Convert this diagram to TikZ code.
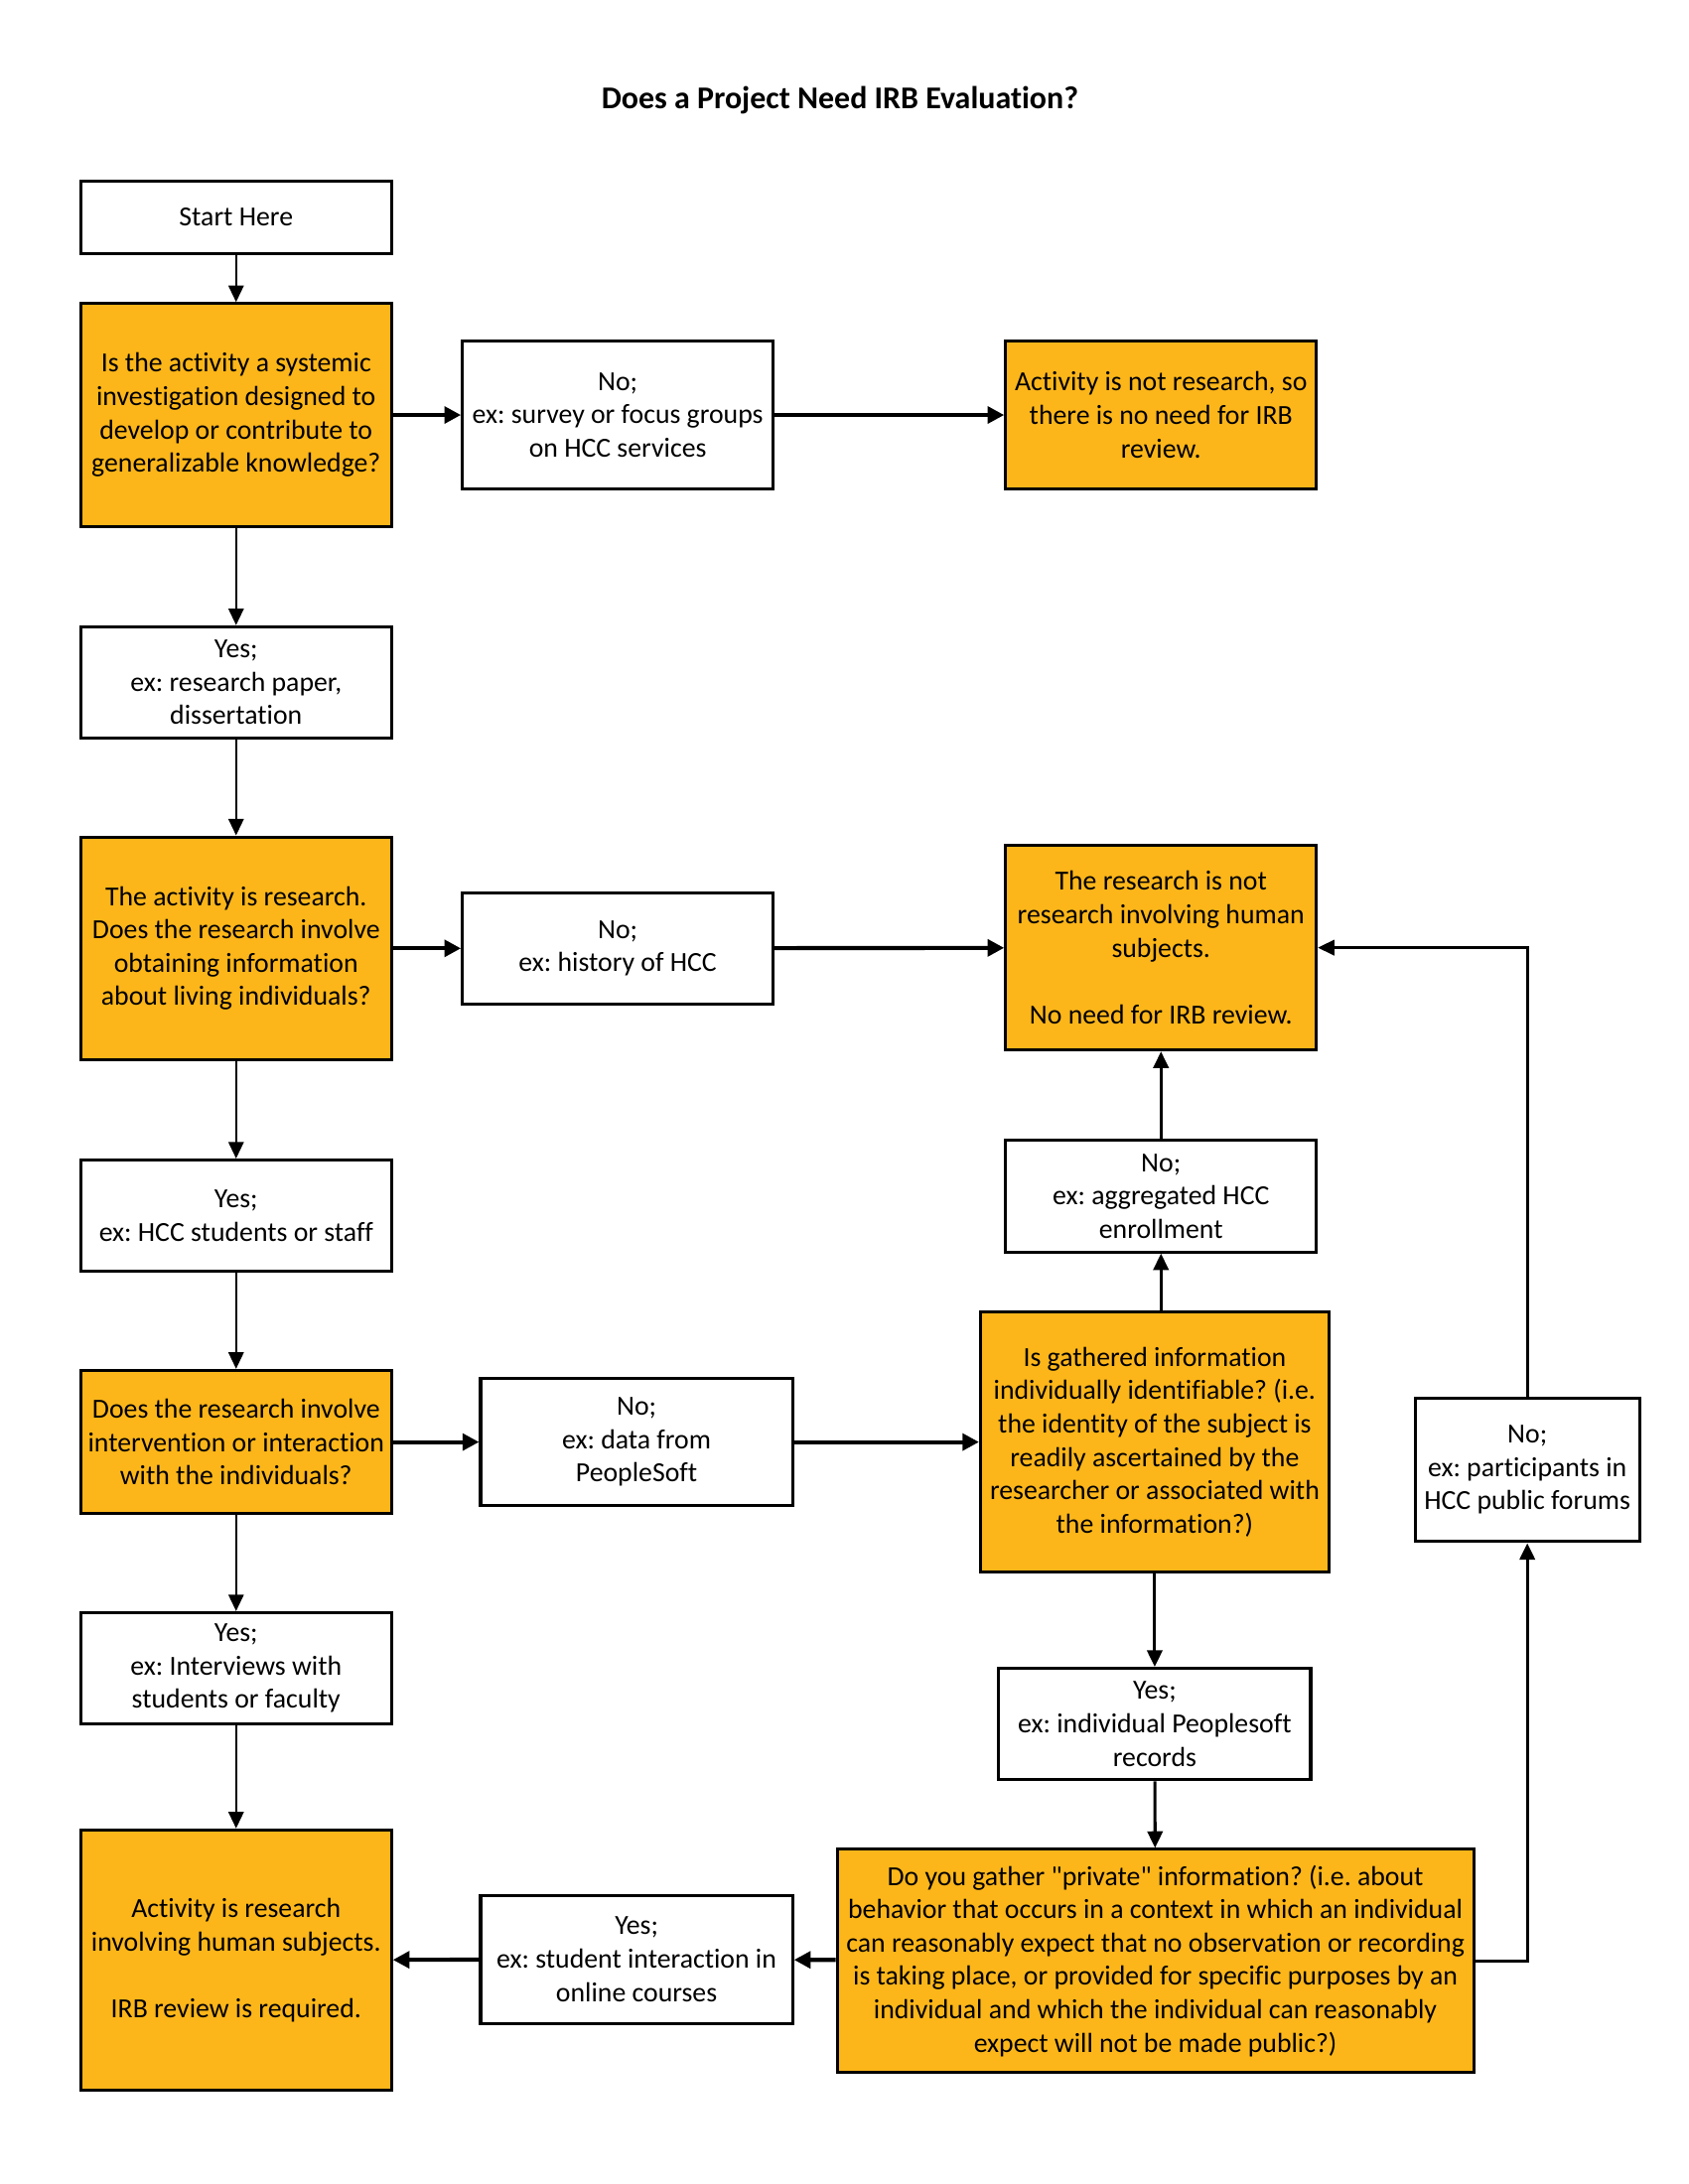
\documentclass[tikz,border=0pt]{standalone}
\usepackage{fontspec}
\setmainfont{Carlito}[Ligatures={TeXOff,CommonOff}]
\usetikzlibrary{arrows.meta,calc}
\definecolor{irborange}{RGB}{252,182,26}
\frenchspacing
\begin{document}
\begin{tikzpicture}[x=0.505pt,y=-0.505pt,
  box/.style={draw=black,line width=1.1pt,align=center,inner sep=2pt,
    font=\fontsize{10}{12.1}\selectfont,minimum width=#1},
  box/.default=112.6pt,
  qbox/.style={box=#1,fill=irborange},
  qbox/.default=112.6pt,
  thinarr/.style={line width=0.8pt,-{Triangle[length=6pt,width=5.5pt]}},
  thickarr/.style={line width=1.5pt,-{Triangle[length=6pt,width=6pt]}},
  medarr/.style={line width=1.1pt,-{Triangle[length=6pt,width=5.5pt]}}
]
\useasboundingbox (0,0) rectangle (1211.9,1568.3);
\fill[white] (0,0) rectangle (1211.9,1568.3);

\node[font=\fontsize{11.5}{14}\selectfont\bfseries] (title) at (603,72) {Does a Project Need IRB Evaluation?};

\node[box,minimum height=26.3pt] (start) at (169.5,156) {Start Here};
\node[qbox,minimum height=80.8pt] (q1) at (169.5,298) {Is the activity a systemic\\investigation designed to\\develop or contribute to\\generalizable knowledge?};
\node[box,minimum height=53.5pt] (no1) at (443.5,298) {No;\\ex: survey or focus groups\\on HCC services};
\node[qbox,minimum height=53.5pt] (r1) at (833.5,298) {Activity is not research, so\\there is no need for IRB\\review.};
\node[box,minimum height=40.4pt] (yes1) at (169.5,490) {Yes;\\ex: research paper,\\dissertation};
\node[qbox,minimum height=80.8pt] (q2) at (169.5,681) {The activity is research.\\Does the research involve\\obtaining information\\about living individuals?};
\node[box,minimum height=40.4pt] (no2) at (443.5,681) {No;\\ex: history of HCC};
\node[qbox,minimum height=74.2pt] (r2) at (833.5,680.5) {The research is not\\research involving human\\subjects.\\[12.1pt]No need for IRB review.};
\node[box,minimum height=40.4pt] (yes2) at (169.5,873) {Yes;\\ex: HCC students or staff};
\node[box,minimum height=40.4pt] (no3) at (833.5,859) {No;\\ex: aggregated HCC\\enrollment};
\node[qbox,minimum height=52pt] (q3) at (169.5,1035.5) {Does the research involve\\intervention or interaction\\with the individuals?};
\node[box=113.1pt,minimum height=46pt] (no4) at (457,1035.5) {No;\\ex: data from\\PeopleSoft};
\node[qbox=126.3pt,minimum height=94.4pt] (q4) at (829,1035.5) {Is gathered information\\individually identifiable? (i.e.\\the identity of the subject is\\readily ascertained by the\\researcher or associated with\\the information?)};
\node[box=81.3pt,minimum height=52pt] (no5) at (1096.5,1055.5) {No;\\ex: participants in\\HCC public forums};
\node[box,minimum height=40.4pt] (yes3) at (169.5,1198) {Yes;\\ex: Interviews with\\students or faculty};
\node[box=113.1pt,minimum height=40.4pt] (yes4) at (829,1238) {Yes;\\ex: individual Peoplesoft\\records};
\node[qbox,minimum height=94.4pt] (r3) at (169.5,1407.5) {Activity is research\\involving human subjects.\\[12.1pt]IRB review is required.};
\node[box=113.1pt,minimum height=46.5pt] (yes5) at (457,1407) {Yes;\\ex: student interaction in\\online courses};
\node[qbox=230.8pt,minimum height=80.8pt] (q5) at (829.5,1408) {Do you gather "private" information? (i.e. about\\behavior that occurs in a context in which an individual\\can reasonably expect that no observation or recording\\is taking place, or provided for specific purposes by an\\individual and which the individual can reasonably\\expect will not be made public?)};

% left column
\draw[thinarr] (start) -- (q1);
\draw[thinarr] (q1) -- (yes1);
\draw[thinarr] (yes1) -- (q2);
\draw[thinarr] (q2) -- (yes2);
\draw[thinarr] (yes2) -- (q3);
\draw[thinarr] (q3) -- (yes3);
\draw[thinarr] (yes3) -- (r3);

% horizontal
\draw[thickarr] (q1) -- (no1);
\draw[thickarr] (no1) -- (r1);
\draw[thickarr] (q2) -- (no2);
\draw[thickarr] (no2) -- (r2);
\draw[thickarr] (q3) -- (no4);
\draw[thickarr] (no4) -- (q4);
\draw[thickarr] (q5) -- (yes5);
\draw[thickarr] (yes5) -- (r3);

% right part
\draw[medarr] (q4.north -| no3.south) -- (no3.south);
\draw[medarr] (no3) -- (r2);
\draw[medarr] (q4) -- (yes4);
\draw[medarr] (yes4) -- (q5);
\draw[medarr] (q5.east) -| (no5.south);
\draw[medarr] (no5.north) |- (r2.east);
\end{tikzpicture}
\end{document}
